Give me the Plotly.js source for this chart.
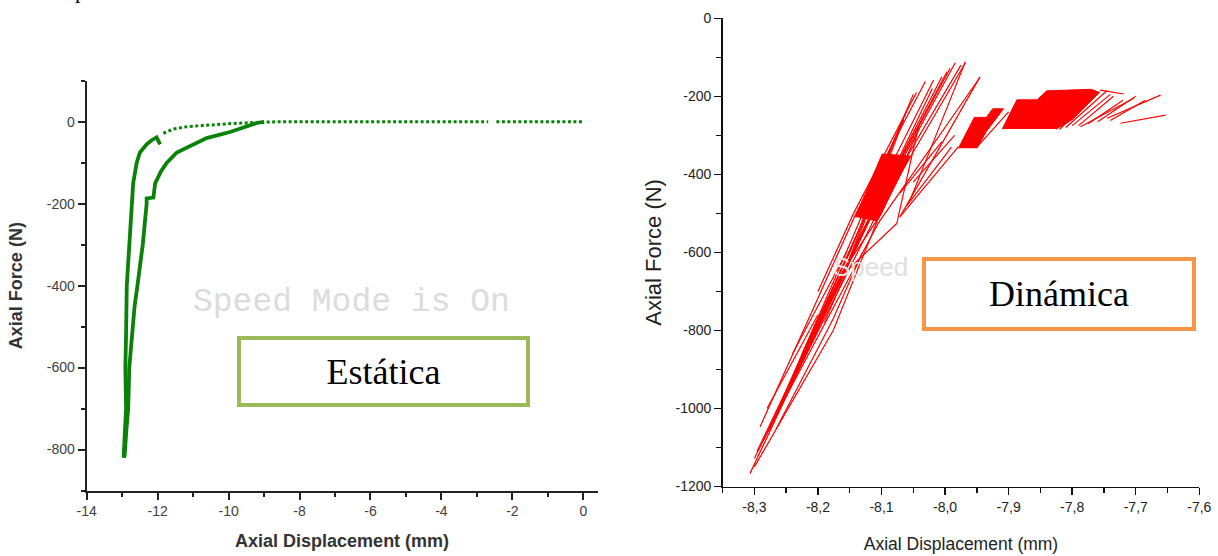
<!DOCTYPE html>
<html>
<head>
<meta charset="utf-8">
<script src="https://cdn.plot.ly/plotly-3.0.1.min.js"></script>
<style>html,body{margin:0;padding:0;background:#fff;}#chart{width:1218px;height:556px;}</style>
</head>
<body>
<div id="chart"></div>
<script>
// ---------- Left chart (Estática) ----------
const staticLoadX = [-11.93, -12.03, -12.17, -12.31, -12.50, -12.59, -12.69, -12.73, -12.80, -12.87, -12.89, -12.91, -12.89, -12.95, -12.96];
const staticLoadY = [-55, -38, -45, -55, -75, -100, -150, -200, -300, -400, -520, -600, -700, -800, -820];
const staticUnloadX = [-12.96, -12.93, -12.88, -12.83, -12.80, -12.73, -12.65, -12.57, -12.42, -12.31, -12.31, -12.12, -12.07, -11.90, -11.74, -11.46, -10.99, -10.62, -9.96, -9.49, -9.20, -9.00];
const staticUnloadY = [-820, -815, -750, -700, -600, -520, -450, -400, -300, -200, -187, -185, -150, -120, -100, -75, -55, -40, -25, -12, -3, 0];
const staticFlatX = [-11.84, -11.56, -11.18, -10.62, -9.87, -9.21, -8.60, -2.68, null, -2.45, 0];
const staticFlatY = [-28, -18, -12, -8, -4, -1.5, 0, 0, null, 0, 0];

const leftXTicks = [-14, -12, -10, -8, -6, -4, -2, 0];
const leftXTickText = ['-14', '-12', '-10', '-8', '-6', '-4', '-2', '0'];
const leftYTicks = [0, -200, -400, -600, -800];
const leftYTickText = ['0', '-200', '-400', '-600', '-800'];

// ---------- Right chart (Dinámica) ----------
const dynStrandX = [
  -8.307, -8.120, -7.984, null,
  -8.291, -8.140, -8.031, null,
  -8.300, -8.110, -7.968, null,
  -8.285, -8.135, -8.018, null,
  -8.270, -8.105, -7.945, null,
  -8.262, -8.145, -8.050, null,
  -8.250, -8.125, -7.997, null,
  -8.235, -8.115, -7.992, null,
  -8.225, -8.150, -8.060, null,
  -8.200, -8.144, -8.045, null,
  -8.296, -8.128, -8.005, null,
  -8.278, -8.150, -8.065, null,
  -8.258, -8.118, -7.975, null,
  -8.245, -8.165, -8.085, null,
  -8.230, -8.140, null,
  -8.210, -8.132, -8.020, null,
  -8.240, -8.155, null,
  -8.280, -8.200, null,
  -8.265, -8.176, -8.130, null,
  -8.215, -8.160, -8.100, -8.040, null,
  -8.190, -8.154, -8.076, null,
  -8.300, -8.176, -8.107, null,
  -8.076, -8.042, null,
  -8.071, -7.945, null,
  -8.055, -7.968, null,
  -8.071, -8.005, null,
  -8.071, -7.979, null,
  -8.060, -7.990, null,
  -8.050, -7.985, null,
  -7.950, -7.900, null,
  -7.820, -7.760, null,
  -7.810, -7.745, null,
  -7.790, -7.735, null,
  -7.760, -7.700, null,
  -7.740, -7.685, null,
  -7.756, -7.719, null,
  -7.787, -7.703, null,
  -7.745, -7.661, null,
  -7.724, -7.653, null,
  -7.800, -7.740, null,
  -7.775, -7.720
];
const dynStrandY = [
  -1167, -520, -114, null,
  -1047, -500, -162, null,
  -1128, -510, -114, null,
  -1080, -540, -158, null,
  -1030, -525, -151, null,
  -1000, -560, -195, null,
  -965, -530, -137, null,
  -900, -500, -128, null,
  -860, -600, -235, null,
  -700, -500, -190, null,
  -1110, -540, -150, null,
  -1060, -620, -260, null,
  -990, -515, -120, null,
  -940, -680, -330, null,
  -890, -560, null,
  -820, -560, -180, null,
  -860, -600, null,
  -1000, -760, null,
  -1050, -770, -600, null,
  -830, -646, -500, -280, null,
  -780, -646, -526, null,
  -1150, -800, -521, null,
  -526, -278, null,
  -509, -150, null,
  -466, -111, null,
  -448, -316, null,
  -509, -329, null,
  -480, -330, null,
  -420, -300, null,
  -330, -240, null,
  -285, -190, null,
  -280, -185, null,
  -275, -200, null,
  -265, -200, null,
  -262, -210, null,
  -184, -194, null,
  -278, -205, null,
  -256, -197, null,
  -269, -248, null,
  -275, -195, null,
  -270, -210
];
const dynBlockX = [-8.141, -8.099, -8.055, -8.107, null,
  -7.979, -7.954, -7.935, -7.925, -7.908, -7.935, -7.950, null,
  -7.910, -7.887, -7.855, -7.840, -7.770, -7.757, -7.800, -7.825];
const dynBlockY = [-509, -348, -353, -521, null,
  -333, -254, -254, -232, -232, -290, -333, null,
  -284, -209, -209, -186, -182, -190, -260, -284];

const rightXTicks = [-8.3, -8.2, -8.1, -8.0, -7.9, -7.8, -7.7, -7.6];
const rightXTickText = ['-8,3', '-8,2', '-8,1', '-8,0', '-7,9', '-7,8', '-7,7', '-7,6'];
const rightYTicks = [0, -200, -400, -600, -800, -1000, -1200];
const rightYTickText = ['0', '-200', '-400', '-600', '-800', '-1000', '-1200'];

const W = 1218, H = 556;
const px = v => v / W;
const py = v => 1 - v / H;

const green = '#0a820a';
const red = '#ff0000';

const traces = [
  {x: staticLoadX, y: staticLoadY, type: 'scatter', mode: 'lines', line: {color: green, width: 3.8}, xaxis: 'x', yaxis: 'y', hoverinfo: 'skip'},
  {x: staticUnloadX, y: staticUnloadY, type: 'scatter', mode: 'lines', line: {color: green, width: 3.8}, xaxis: 'x', yaxis: 'y', hoverinfo: 'skip'},
  {x: staticFlatX, y: staticFlatY, type: 'scatter', mode: 'lines', line: {color: green, width: 3, dash: '3px,2.5px'}, xaxis: 'x', yaxis: 'y', hoverinfo: 'skip'},
  {x: dynBlockX, y: dynBlockY, type: 'scatter', mode: 'lines', fill: 'toself', fillcolor: red, line: {color: red, width: 1}, xaxis: 'x2', yaxis: 'y2', hoverinfo: 'skip'},
  {x: dynStrandX, y: dynStrandY, type: 'scatter', mode: 'lines', line: {color: red, width: 1.2}, xaxis: 'x2', yaxis: 'y2', hoverinfo: 'skip'}
];

const tickFontL = {family: 'Liberation Sans, Arial, sans-serif', size: 14, color: '#404040'};
const tickFontR = {family: 'Liberation Sans, Arial, sans-serif', size: 14, color: '#222'};

const layout = {
  width: W, height: H,
  margin: {l: 0, r: 0, t: 0, b: 0},
  paper_bgcolor: '#fff', plot_bgcolor: 'rgba(0,0,0,0)',
  showlegend: false,
  xaxis: {
    domain: [px(86.7), px(597.5)], range: [-14, 0.4], anchor: 'y',
    tickmode: 'array', tickvals: leftXTicks, ticktext: leftXTickText,
    ticks: 'outside', ticklen: 7, tickwidth: 2, tickcolor: '#222',
    minor: {tickmode: 'linear', tick0: 0, dtick: 1, ticks: 'outside', ticklen: 4, tickwidth: 2, tickcolor: '#222'},
    showline: true, linewidth: 2, linecolor: '#222', showgrid: false, zeroline: false,
    tickfont: tickFontL,
    title: {text: 'Axial Displacement (mm)', font: {family: 'Liberation Sans, Arial, sans-serif', size: 18, color: '#333', weight: 'bold'}, standoff: 16}
  },
  yaxis: {
    domain: [py(490.5), py(80.8)], range: [-900, 100], anchor: 'x',
    tickmode: 'array', tickvals: leftYTicks, ticktext: leftYTickText,
    ticks: 'outside', ticklen: 7, tickwidth: 2, tickcolor: '#222',
    minor: {tickmode: 'linear', tick0: 0, dtick: 100, ticks: 'outside', ticklen: 4, tickwidth: 2, tickcolor: '#222'},
    showline: true, linewidth: 2, linecolor: '#222', showgrid: false, zeroline: false,
    tickfont: tickFontL,
    title: {text: 'Axial Force (N)', font: {family: 'Liberation Sans, Arial, sans-serif', size: 18, color: '#333', weight: 'bold'}, standoff: 20}
  },
  xaxis2: {
    domain: [px(722.6), px(1199.3)], range: [-8.35, -7.6], anchor: 'y2',
    tickmode: 'array', tickvals: rightXTicks, ticktext: rightXTickText,
    ticks: 'outside', ticklen: 7, tickwidth: 1.5, tickcolor: '#111',
    minor: {tickmode: 'linear', tick0: -8.3, dtick: 0.05, ticks: 'outside', ticklen: 5, tickwidth: 1.5, tickcolor: '#111'},
    showline: true, linewidth: 1.5, linecolor: '#111', showgrid: false, zeroline: false,
    tickfont: tickFontR,
    title: {text: 'Axial Displacement (mm)', font: {family: 'Liberation Sans, Arial, sans-serif', size: 17.5, color: '#222'}, standoff: 24}
  },
  yaxis2: {
    domain: [py(486.5), py(18.3)], range: [-1200, 0], anchor: 'x2',
    tickmode: 'array', tickvals: rightYTicks, ticktext: rightYTickText,
    ticks: 'outside', ticklen: 7, tickwidth: 1.5, tickcolor: '#111',
    minor: {tickmode: 'linear', tick0: 0, dtick: 100, ticks: 'outside', ticklen: 5, tickwidth: 1.5, tickcolor: '#111'},
    showline: true, linewidth: 1.5, linecolor: '#111', showgrid: false, zeroline: false,
    tickfont: tickFontR,
    title: {text: 'Axial Force (N)', font: {family: 'Liberation Sans, Arial, sans-serif', size: 22, color: '#222'}, standoff: 8}
  },
  annotations: [
    {text: 'p', xref: 'paper', yref: 'paper', x: px(80), y: 1, xanchor: 'center', yanchor: 'bottom', yshift: -5, showarrow: false,
     font: {family: 'Liberation Serif, serif', size: 22, color: '#000'}},
    {text: 'Speed Mode is On', xref: 'paper', yref: 'paper', x: px(351.5), y: py(302), xanchor: 'center', yanchor: 'middle', showarrow: false,
     font: {family: 'Liberation Mono, monospace', size: 33, color: '#dcdcdc'}},
    {text: 'Estática', xref: 'paper', yref: 'paper', x: px(383.5), y: py(371.5), xanchor: 'center', yanchor: 'middle', showarrow: false,
     width: 283, height: 61, bgcolor: '#fff', bordercolor: '#9bbb59', borderwidth: 4, borderpad: 1,
     font: {family: 'Liberation Serif, serif', size: 36, color: '#000'}},
    {text: 'Speed', xref: 'paper', yref: 'paper', x: px(870), y: py(267), xanchor: 'center', yanchor: 'middle', showarrow: false,
     font: {family: 'Liberation Sans, Arial, sans-serif', size: 26, color: '#e0e0e0'}},
    {text: 'Dinámica', xref: 'paper', yref: 'paper', x: px(1059), y: py(294), xanchor: 'center', yanchor: 'middle', showarrow: false,
     width: 264, height: 64, bgcolor: '#fff', bordercolor: '#f79646', borderwidth: 4, borderpad: 1,
     font: {family: 'Liberation Serif, serif', size: 36, color: '#000'}}
  ]
};

Plotly.newPlot('chart', traces, layout, {staticPlot: true, displayModeBar: false});
</script>
</body>
</html>
